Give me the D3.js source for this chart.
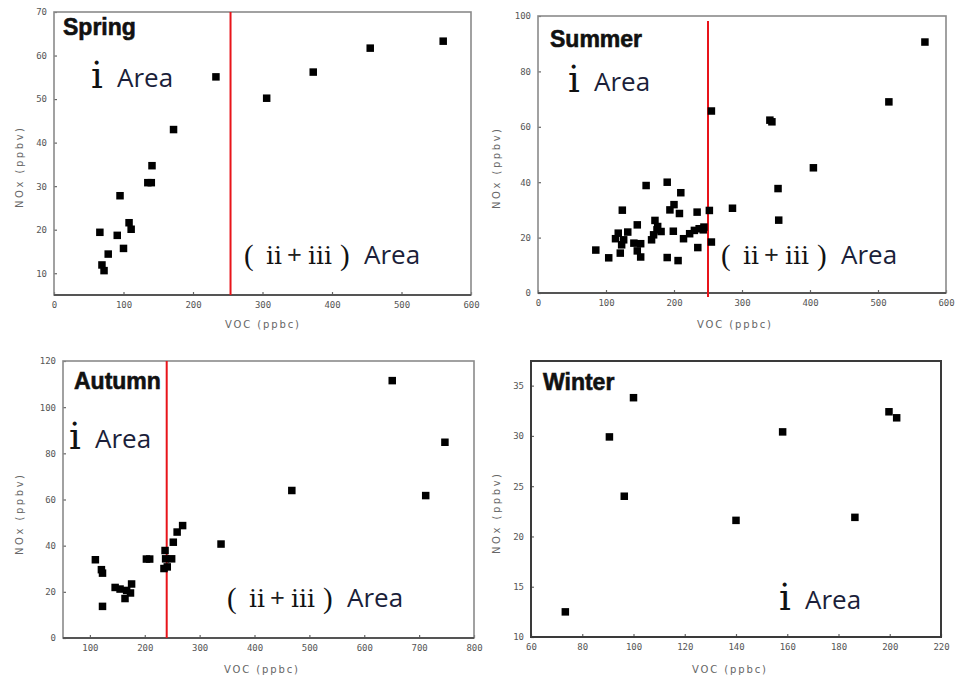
<!DOCTYPE html>
<html><head><meta charset="utf-8">
<script src="https://cdn.jsdelivr.net/npm/d3@7"></script>
<style>
body{margin:0;background:#fff;}
svg{display:block;}
</style></head>
<body>
<script>
// ---------- DATA ----------
const springVOC = [66, 69, 72, 78, 91, 95, 100, 108, 111, 135, 140, 141, 172, 233, 306, 373, 455, 560];
const springNOx = [19.4, 11.9, 10.6, 14.4, 18.7, 27.8, 15.7, 21.6, 20.1, 30.8, 30.8, 34.7, 43.0, 55.1, 50.2, 56.2, 61.7, 63.3];

const summerVOC = [85, 104, 121, 114, 118, 123, 126, 124, 132, 141, 146, 146, 151, 151, 159, 167, 170, 172, 176, 175, 181, 190, 190, 194, 199, 200, 206, 208, 210, 214, 223, 230, 234, 235, 237, 243, 244, 252, 255, 255, 286, 341, 344, 353, 354, 405, 516, 569];
const summerNOx = [15.5, 12.7, 14.4, 19.6, 21.6, 17.4, 19.2, 29.9, 22.0, 18.0, 24.6, 15.2, 17.8, 13.0, 38.8, 19.2, 21.0, 26.2, 24.0, 22.8, 22.2, 40.0, 12.8, 30.0, 22.3, 31.9, 11.7, 28.7, 36.2, 19.6, 21.4, 22.6, 29.2, 16.4, 23.2, 22.8, 23.8, 29.8, 18.4, 65.7, 30.6, 62.4, 61.8, 37.7, 26.3, 45.2, 69.0, 90.6];

const autumnVOC = [110, 121, 123, 123, 146, 155, 164, 167, 174, 176, 203, 209, 235, 241, 237, 238, 249, 252, 259, 269, 339, 468, 651, 712, 747];
const autumnNOx = [33.9, 29.6, 28.1, 13.7, 21.9, 21.2, 17.1, 20.6, 19.5, 23.4, 34.2, 34.2, 30.1, 30.8, 37.9, 34.3, 34.3, 41.5, 45.9, 48.7, 40.7, 63.9, 111.5, 61.7, 84.8];

const winterVOC = [73.4, 90.6, 96.4, 100, 140, 158.2, 186.4, 199.7, 202.7];
const winterNOx = [12.5, 29.9, 24.0, 33.8, 21.6, 30.4, 21.9, 32.4, 31.8];

const springXTicks = [0, 100, 200, 300, 400, 500, 600];
const springYTicks = [10, 20, 30, 40, 50, 60, 70];
const summerXTicks = [0, 100, 200, 300, 400, 500, 600];
const summerYTicks = [0, 20, 40, 60, 80, 100];
const autumnXTicks = [100, 200, 300, 400, 500, 600, 700, 800];
const autumnYTicks = [0, 20, 40, 60, 80, 100, 120];
const winterXTicks = [60, 80, 100, 120, 140, 160, 180, 200, 220];
const winterYTicks = [10, 15, 20, 25, 30, 35];

const seasonNames = ["Spring", "Summer", "Autumn", "Winter"];
const xTitle = "VOC (ppbc)";
const yTitle = "NOx (ppbv)";
const areaOne = ["ⅰ", "Area"];
const areaTwo = ["(", "ⅱ", "+", "ⅲ", ")", "Area"];
const boundaryVOC = [254, 250, 240, null];

// ---------- LAYOUT ----------
const W = 956, H = 684;
const svg = d3.select("body").append("svg").attr("width", W).attr("height", H);

const panels = [
  {name: seasonNames[0], vx: springVOC, vy: springNOx, xd: [0, 600], yd: [5, 70], xt: springXTicks, yt: springYTicks,
   box: [54, 12, 471, 295], line: boundaryVOC[0], lineExt: [0, 0],
   title: [63, 35], a1: [91, 117, 87], a2: [243, 264], frame: "#8a8a8a", frameW: 1.6,
   xLab: [262, 328], yLab: [19, 168]},
  {name: seasonNames[1], vx: summerVOC, vy: summerNOx, xd: [0, 600], yd: [0, 100], xt: summerXTicks, yt: summerYTicks,
   box: [538, 16, 946, 293], line: boundaryVOC[1], lineExt: [5, 4],
   title: [550, 47], a1: [568, 594, 91], a2: [720, 264], frame: "#8a8a8a", frameW: 1.6,
   xLab: [734, 328], yLab: [496, 169]},
  {name: seasonNames[2], vx: autumnVOC, vy: autumnNOx, xd: [51, 800], yd: [0, 120], xt: autumnXTicks, yt: autumnYTicks,
   box: [63, 361, 474, 638], line: boundaryVOC[2], lineExt: [0, 0],
   title: [74, 389], a1: [69, 95, 448], a2: [226, 607], frame: "#8a8a8a", frameW: 1.6,
   xLab: [261, 673], yLab: [19, 515]},
  {name: seasonNames[3], vx: winterVOC, vy: winterNOx, xd: [60, 220], yd: [10, 37.45], xt: winterXTicks, yt: winterYTicks,
   box: [531, 361, 941, 637], line: boundaryVOC[3], lineExt: [0, 0],
   title: [543, 390], a1: [779, 805, 609], a2: null, frame: "#3a3a3a", frameW: 2,
   xLab: [729, 673], yLab: [496, 514]}
];

panels.forEach(p => {
  const [l, t, r, b] = p.box;
  const x = d3.scaleLinear().domain(p.xd).range([l, r]);
  const y = d3.scaleLinear().domain(p.yd).range([b, t]);
  const g = svg.append("g");

  // axes
  const xa = g.append("g").attr("transform", `translate(0,${b})`)
    .call(d3.axisBottom(x).tickValues(p.xt).tickSize(-3).tickPadding(7).tickFormat(d3.format("d")));
  const ya = g.append("g").attr("transform", `translate(${l},0)`)
    .call(d3.axisLeft(y).tickValues(p.yt).tickSize(-3).tickPadding(7).tickFormat(d3.format("d")));
  [xa, ya].forEach(a => {
    a.select(".domain").remove();
    a.selectAll(".tick line").attr("stroke", "#666").attr("stroke-width", 1.2);
    a.selectAll(".tick text").attr("fill", "#555").attr("font-size", 9)
      .attr("font-family", "'DejaVu Sans Mono', monospace");
  });

  // frame
  g.append("rect").attr("x", l).attr("y", t).attr("width", r - l).attr("height", b - t)
    .attr("fill", "none").attr("stroke", p.frame).attr("stroke-width", p.frameW);
  g.append("line").attr("x1", l).attr("x2", r).attr("y1", b).attr("y2", b)
    .attr("stroke", p.name === "Winter" ? "#3a3a3a" : "#555").attr("stroke-width", 1.8);

  // boundary line
  if (p.line != null) {
    g.append("line").attr("x1", x(p.line)).attr("x2", x(p.line))
      .attr("y1", t + p.lineExt[0]).attr("y2", b + p.lineExt[1])
      .attr("stroke", "#e8141a").attr("stroke-width", 2);
  }

  // points
  const sz = 7.5;
  g.selectAll("rect.pt").data(d3.range(p.vx.length)).join("rect").attr("class", "pt")
    .attr("x", i => x(p.vx[i]) - sz / 2).attr("y", i => y(p.vy[i]) - sz / 2)
    .attr("width", sz).attr("height", sz).attr("fill", "#000");

  // title
  g.append("text").attr("x", p.title[0]).attr("y", p.title[1]).text(p.name)
    .attr("font-family", "'Liberation Sans', Arial, sans-serif").attr("font-weight", "bold")
    .attr("font-size", 23).attr("fill", "#111").attr("stroke", "#111").attr("stroke-width", 0.6);

  // axis titles
  g.append("text").attr("x", p.xLab[0]).attr("y", p.xLab[1]).attr("text-anchor", "middle")
    .attr("font-family", "'DejaVu Sans', sans-serif").attr("font-size", 10).attr("fill", "#666")
    .attr("textLength", 74).attr("lengthAdjust", "spacing").text(xTitle);
  g.append("text").attr("transform", `translate(${p.yLab[0]},${p.yLab[1]}) rotate(-90)`)
    .attr("text-anchor", "middle").attr("dy", "0.35em")
    .attr("font-family", "'DejaVu Sans', sans-serif").attr("font-size", 10).attr("fill", "#666")
    .attr("textLength", 80).attr("lengthAdjust", "spacing").text(yTitle);

  // area labels
  const areaFont = "'Open Sans', 'Noto Sans', sans-serif";
  const numFont = "'DejaVu Serif', 'Liberation Serif', serif";
  const parenFont = "'Liberation Serif', serif";
  g.append("text").attr("x", p.a1[0]).attr("y", p.a1[2] + 1).text(areaOne[0])
    .attr("font-family", numFont).attr("font-size", 37).attr("fill", "#111");
  g.append("text").attr("x", p.a1[1]).attr("y", p.a1[2]).text(areaOne[1])
    .attr("font-family", areaFont).attr("font-size", 26).attr("fill", "#1b1f3a");
  if (p.a2) {
    const bx = p.a2[0], by = p.a2[1];
    const offs = [1, 23, 44, 65, 97, 121];
    const fonts = [parenFont, numFont, areaFont, numFont, parenFont, areaFont];
    const sizes = [29, 25, 26, 25, 29, 26];
    const fills = ["#111", "#111", "#222", "#111", "#111", "#1b1f3a"];
    areaTwo.forEach((s, i) => {
      g.append("text").attr("x", bx + offs[i]).attr("y", by + (i === 0 || i === 4 ? 1 : 0)).text(s)
        .attr("font-family", fonts[i]).attr("font-size", sizes[i]).attr("fill", fills[i]);
    });
  }
});
</script>
</body></html>
